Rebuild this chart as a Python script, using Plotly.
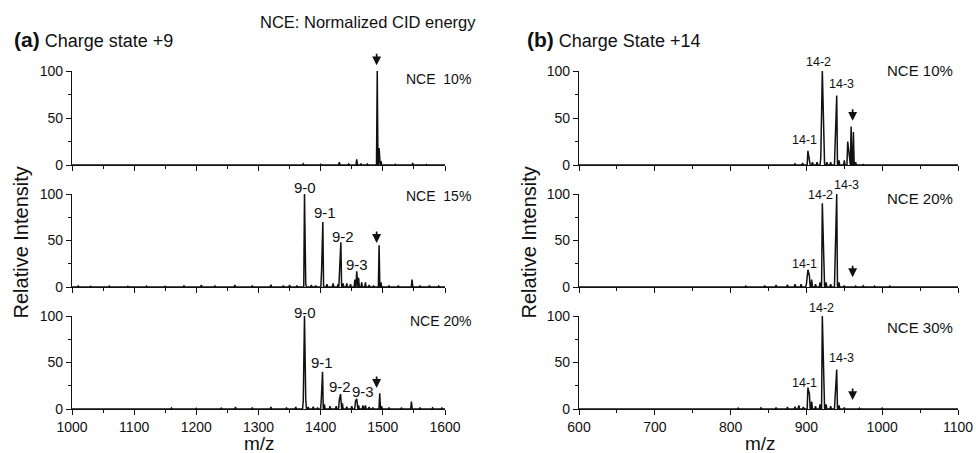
import plotly.graph_objects as go

# ---------------- data (peak lists) ----------------
# (a) charge state +9
a10_mz = [1010, 1050, 1100, 1150, 1200, 1250, 1300, 1340, 1372, 1400, 1430, 1445, 1458, 1465, 1475,
          1491, 1494, 1497, 1520, 1548, 1570, 1590]
a10_int = [0.5, 0.8, 0.5, 0.6, 0.5, 0.7, 0.8, 0.6, 1.2, 0.8, 3, 1, 6, 1.5, 1,
           100, 18, 4, 0.8, 2, 0.6, 0.5]

a15_mz = [1010, 1030, 1060, 1090, 1120, 1150, 1180, 1208, 1230, 1262, 1290, 1320, 1340, 1350, 1362,
          1374, 1376, 1385, 1392, 1401.5, 1403.5, 1410, 1420, 1428, 1430.5, 1432.5, 1436, 1442, 1448,
          1455, 1458, 1461, 1466, 1472, 1478, 1485, 1494, 1497, 1510, 1525, 1547, 1560, 1575, 1590]
a15_int = [1, 0.8, 1, 0.8, 1, 0.8, 1.5, 2, 1, 2, 1.5, 2.5, 1.5, 2, 1.5,
           100, 3, 2, 1.5, 18, 70, 3, 4, 3, 18, 48, 4, 4, 3,
           8, 17, 10, 5, 5, 2, 1.5, 45, 5, 1.5, 1.5, 8, 1.5, 1.5, 1]

a20_mz = [1010, 1040, 1080, 1120, 1160, 1200, 1240, 1263, 1290, 1320, 1345, 1360,
          1372, 1374, 1376, 1380, 1388, 1395, 1401, 1403, 1406, 1415, 1425, 1430, 1432, 1435,
          1442, 1450, 1456, 1458, 1461, 1468, 1472, 1478, 1484, 1495, 1498, 1510, 1530, 1546,
          1560, 1580, 1595]
a20_int = [0.8, 0.8, 0.8, 0.8, 1, 0.8, 1, 2, 1.5, 2, 1.5, 2,
           8, 100, 10, 2, 2.5, 1.5, 10, 40, 5, 3, 3, 10, 16, 6,
           2.5, 3, 8, 11, 4, 4, 4, 2, 1.5, 17, 3, 1.5, 1.5, 8,
           1.5, 1.2, 1]

# (b) charge state +14
b10_mz = [610, 650, 700, 750, 800, 850, 870, 885, 895, 902, 904, 908, 914, 919, 921, 923, 927, 932,
          938, 940, 943, 950, 954.5, 956.5, 959, 962, 965, 975, 1000, 1030, 1060, 1090]
b10_int = [0.3, 0.3, 0.3, 0.3, 0.4, 0.5, 0.8, 1.2, 2, 15, 6, 3, 3, 8, 100, 8, 3, 3,
           27, 74, 5, 5, 25, 8, 41, 35, 3, 0.6, 0.5, 0.4, 0.3, 0.3]

b20_mz = [610, 650, 700, 750, 790, 820, 845, 860, 875, 885, 893, 900, 902, 904, 907, 912, 918, 921,
          923, 926, 932, 938, 940, 943, 950, 965, 975, 990, 1010, 1040, 1070, 1095]
b20_int = [0.3, 0.4, 0.4, 0.5, 0.8, 1, 1.5, 2, 2.5, 3, 3, 3, 18.5, 12, 8, 3, 5, 90,
           33, 5, 3, 29, 100, 5, 1.5, 1, 1.2, 1, 1, 0.8, 0.6, 0.5]

b30_mz = [610, 650, 700, 740, 780, 810, 840, 860, 875, 885, 890, 896, 902, 904, 907, 912, 918, 921,
          923, 926, 932, 938, 940, 943, 950, 970, 1000, 1030, 1060, 1090]
b30_int = [0.3, 0.4, 0.5, 0.6, 0.8, 1, 1.2, 1.5, 2, 2.5, 4, 2, 23, 16, 8, 3, 5, 100,
           30, 5, 3, 15, 42.5, 4, 1.5, 1, 1, 0.8, 0.6, 0.5]

x_ticks_a = [1000, 1100, 1200, 1300, 1400, 1500, 1600]
x_ticks_b = [600, 700, 800, 900, 1000, 1100]
y_ticks = [0, 50, 100]

FONT = "Liberation Sans, Arial, sans-serif"
INK = "#111111"


def stick_trace(mz, inten, lo, hi, w, axis):
    """Line trace of the spectrum; baseline joins between separated peaks."""
    xs, ys = [lo], [0]
    n = len(mz)
    for i in range(n):
        if i == 0 or mz[i] - mz[i - 1] > 2 * w:
            xs.append(mz[i] - w); ys.append(0)
        xs.append(mz[i]); ys.append(inten[i])
        if i == n - 1 or mz[i + 1] - mz[i] > 2 * w:
            xs.append(mz[i] + w); ys.append(0)
    xs.append(hi); ys.append(0)
    return go.Scatter(x=xs, y=ys, mode="lines", line=dict(color=INK, width=1.5),
                      xaxis="x" + axis, yaxis="y" + axis, showlegend=False,
                      hoverinfo="skip")


panels = [
    ("", a10_mz, a10_int, "a", 0),
    ("2", a15_mz, a15_int, "a", 1),
    ("3", a20_mz, a20_int, "a", 2),
    ("4", b10_mz, b10_int, "b", 0),
    ("5", b20_mz, b20_int, "b", 1),
    ("6", b30_mz, b30_int, "b", 2),
]

H = 453.0
W = 976.0
row_px = [(71, 165), (194, 287), (316, 409)]
col_px = {"a": (72, 445), "b": (579, 958)}

fig = go.Figure()
layout = dict(width=976, height=453, margin=dict(l=0, r=0, t=0, b=0, pad=0, autoexpand=False),
              paper_bgcolor="white", plot_bgcolor="white", template="none",
              font=dict(family=FONT, color=INK, size=14), showlegend=False)

for ax, mz, inten, col, row in panels:
    lo, hi = (1000, 1600) if col == "a" else (600, 1100)
    w = 1.2 if col == "a" else 1.0
    fig.add_trace(stick_trace(mz, inten, lo, hi, w, ax))
    t, b = row_px[row]
    l, r = col_px[col]
    layout["xaxis" + ax] = dict(
        domain=[l / W, r / W], anchor="y" + ax, range=[lo, hi], automargin=False,
        tickmode="array", tickvals=x_ticks_a if col == "a" else x_ticks_b,
        showticklabels=(row == 2), ticks="outside", ticklen=5, tickwidth=1.3,
        tickcolor=INK, showline=True, linecolor=INK, linewidth=1.3,
        showgrid=False, zeroline=False, tickfont=dict(size=14, family=FONT, color=INK),
        minor=dict(dtick=50, tick0=0, ticks="outside", ticklen=3, tickwidth=1.1, tickcolor=INK),
    )
    layout["yaxis" + ax] = dict(
        domain=[1 - b / H, 1 - t / H], anchor="x" + ax, range=[0, 100], automargin=False,
        tickmode="array", tickvals=y_ticks, ticks="outside", ticklen=5, tickwidth=1.3,
        tickcolor=INK, showline=True, linecolor=INK, linewidth=1.3,
        showgrid=False, zeroline=False, tickfont=dict(size=14, family=FONT, color=INK),
        minor=dict(dtick=25, tick0=0, ticks="outside", ticklen=3, tickwidth=1.1, tickcolor=INK),
    )

fig.update_layout(**layout)

ann = []


def label(text, x, y, ax, size):
    ann.append(dict(text=text, x=x, y=y / 100.0, xref="x" + ax, yref="y" + ax + " domain",
                    showarrow=False, xanchor="center", yanchor="middle",
                    font=dict(size=size, family=FONT, color=INK)))


def nce(text, ydom, xdom, ax, size):
    ann.append(dict(text=text, x=xdom, y=ydom, xref="x" + ax + " domain",
                    yref="y" + ax + " domain", showarrow=False, xanchor="right",
                    yanchor="middle", font=dict(size=size, family=FONT, color=INK)))


def arrow(x, y, ax):
    ann.append(dict(text="", x=x, y=y / 100.0, xref="x" + ax, yref="y" + ax + " domain",
                    showarrow=True, ax=0, ay=-13, arrowhead=2, arrowsize=1.05,
                    arrowwidth=1.7, arrowcolor=INK, standoff=0))


# (a) labels
nce("NCE&nbsp;&nbsp;10%", 0.914, 1.075, "", 14)
arrow(1490, 106, "")
label("9-0", 1375, 106.5, "2", 15)
label("9-1", 1407, 79.6, "2", 15)
label("9-2", 1436, 54.8, "2", 15)
label("9-3", 1458, 24.7, "2", 15)
arrow(1490, 47.3, "2")
nce("NCE&nbsp;&nbsp;15%", 0.978, 1.075, "2", 14)
label("9-0", 1375, 104.3, "3", 15)
label("9-1", 1402, 49.5, "3", 15)
label("9-2", 1431, 24.7, "3", 15)
label("9-3", 1468, 18.3, "3", 15)
arrow(1490, 22.6, "3")
nce("NCE 20%", 0.946, 1.075, "3", 14)

# (b) labels
label("14-1", 898, 26.3, "4", 12.5)
label("14-2", 916.6, 109.5, "4", 12.5)
label("14-3", 946.6, 86.3, "4", 12.5)
arrow(961, 47, "4")
nce("NCE 10%", 1.01, 0.992, "4", 15)
label("14-1", 898, 24.5, "5", 12.5)
label("14-2", 918, 99, "5", 12.5)
label("14-3", 953, 109.6, "5", 12.5)
arrow(961, 10.6, "5")
nce("NCE 20%", 0.947, 0.992, "5", 15)
label("14-1", 898, 27.7, "6", 12.5)
label("14-2", 920, 108.8, "6", 12.5)
label("14-3", 946.6, 54.6, "6", 12.5)
arrow(961, 9.6, "6")
nce("NCE 30%", 0.876, 0.992, "6", 15)

# headers & titles
ann.append(dict(text="<span style='font-size:21px'><b>(a)</b></span> Charge state +9",
                x=12 / W, y=1 - 39 / H, xref="paper", yref="paper",
                showarrow=False, xanchor="left", yanchor="middle",
                font=dict(size=18, family=FONT, color=INK)))
ann.append(dict(text="<span style='font-size:21px'><b>(b)</b></span> Charge State +14",
                x=525 / W, y=1 - 39 / H, xref="paper", yref="paper",
                showarrow=False, xanchor="left", yanchor="middle",
                font=dict(size=18, family=FONT, color=INK)))
ann.append(dict(text="NCE: Normalized CID energy", x=258 / W, y=1 - 22 / H, xref="paper", yref="paper",
                showarrow=False, xanchor="left", yanchor="middle",
                font=dict(size=16.5, family=FONT, color=INK)))
for xp in (21, 529):
    ann.append(dict(text="Relative Intensity", x=xp / W, y=1 - 242.5 / H, xref="paper", yref="paper",
                    showarrow=False, xanchor="center", yanchor="middle", textangle=-90,
                    font=dict(size=20, family=FONT, color=INK)))
for xp in (259, 760):
    ann.append(dict(text="m/z", x=xp / W, y=-3 / H, xref="paper", yref="paper",
                    showarrow=False, xanchor="center", yanchor="bottom",
                    font=dict(size=19, family=FONT, color=INK)))

fig.update_layout(annotations=ann)
fig.write_html("out.html", config={"displayModeBar": False},
               post_script="document.body.style.margin='0';document.body.style.overflow='hidden';")
